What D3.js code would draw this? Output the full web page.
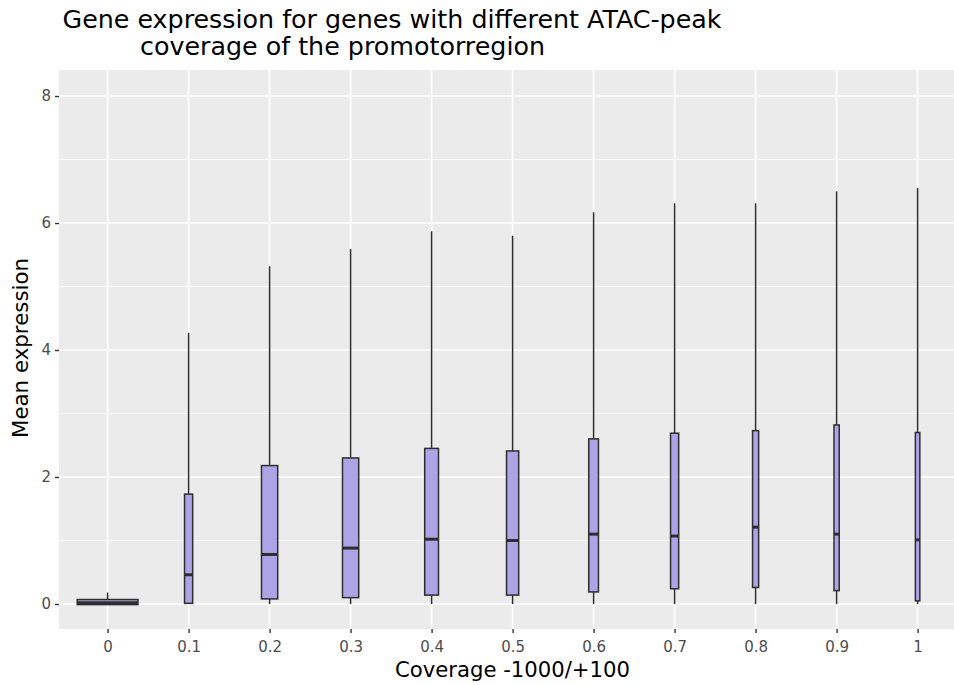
<!DOCTYPE html>
<html><head><meta charset="utf-8">
<script src="https://cdn.jsdelivr.net/npm/d3@7"></script>
<style>body{margin:0;background:#fff}svg{display:block;font-family:"DejaVu Sans",sans-serif}</style>
</head><body><svg id="c" width="954" height="685"></svg>
<script>
const categories = ["0","0.1","0.2","0.3","0.4","0.5","0.6","0.7","0.8","0.9","1"];
const whiskerLow  = [0,0,0,0,0,0,0,0,0,0,0];
const q1          = [-0.01,0.01,0.08,0.10,0.14,0.14,0.19,0.24,0.26,0.21,0.05];
const median      = [0.02,0.46,0.78,0.88,1.02,1.00,1.10,1.07,1.21,1.10,1.01];
const q3          = [0.07,1.73,2.18,2.30,2.45,2.41,2.60,2.69,2.73,2.82,2.70];
const whiskerHigh = [0.18,4.27,5.32,5.59,5.87,5.80,6.17,6.31,6.31,6.50,6.55];
const groupSize   = [10000,178,711,711,514,400,256,178,100,75,54];
const yTicks = [0,2,4,6,8];
const yMinor = [1,3,5,7];

const svg = d3.select("#c");
const L=59, R=966.2, T=70, B=629;
const x = d3.scalePoint().domain(categories).range([L,R]).padding(0.6);
const y = d3.scaleLinear().domain([-0.394,8.41]).range([B,T]);
const step = x.step();
const nMax = d3.max(groupSize);

svg.append("rect").attr("x",L).attr("y",T).attr("width",R-L).attr("height",B-T).attr("fill","#ebebeb");
svg.selectAll(".ymin").data(yMinor).join("line").attr("x1",L).attr("x2",R)
  .attr("y1",d=>y(d)).attr("y2",d=>y(d)).attr("stroke","#fff").attr("stroke-width",0.8);
svg.selectAll(".ymaj").data(yTicks).join("line").attr("x1",L).attr("x2",R)
  .attr("y1",d=>y(d)).attr("y2",d=>y(d)).attr("stroke","#fff").attr("stroke-width",1.6);
svg.selectAll(".xmaj").data(categories).join("line").attr("y1",T).attr("y2",B)
  .attr("x1",d=>x(d)).attr("x2",d=>x(d)).attr("stroke","#fff").attr("stroke-width",1.6);

const data = categories.map((c,i)=>({c,lo:whiskerLow[i],q1:q1[i],med:median[i],q3:q3[i],hi:whiskerHigh[i],w:0.75*step*Math.sqrt(groupSize[i]/nMax)}));
const g = svg.append("g");
const stroke="#2e2e2e";
data.forEach(d=>{
  const cx=x(d.c);
  g.append("line").attr("x1",cx).attr("x2",cx).attr("y1",y(d.q3)).attr("y2",y(d.hi)).attr("stroke",stroke).attr("stroke-width",1.5);
  g.append("line").attr("x1",cx).attr("x2",cx).attr("y1",y(d.q1)).attr("y2",y(d.lo)).attr("stroke",stroke).attr("stroke-width",1.5);
  g.append("rect").attr("x",cx-d.w/2).attr("width",d.w).attr("y",y(d.q3)).attr("height",Math.max(0,y(d.q1)-y(d.q3)))
    .attr("fill","#aca4e6").attr("stroke",stroke).attr("stroke-width",1.5);
  g.append("line").attr("x1",cx-d.w/2).attr("x2",cx+d.w/2).attr("y1",y(d.med)).attr("y2",y(d.med)).attr("stroke",stroke).attr("stroke-width",3);
});

// axes
const ya = svg.append("g").attr("transform",`translate(${L},0)`).call(d3.axisLeft(y).tickValues(yTicks).tickSize(4).tickPadding(4));
const xa = svg.append("g").attr("transform",`translate(0,${B})`).call(d3.axisBottom(x).tickSize(4).tickPadding(8));
[ya,xa].forEach(a=>{a.select(".domain").remove();a.selectAll("line").attr("stroke","#333").attr("stroke-width",1.4);
  a.selectAll("text").attr("fill","#4d4d4d").style("font-size","15px").style("font-family","DejaVu Sans");});

svg.append("text").attr("x",512.5).attr("y",677).attr("text-anchor","middle").style("font-size","21px").attr("fill","#000")
  .attr("textLength",235).attr("lengthAdjust","spacingAndGlyphs").text("Coverage -1000/+100");
svg.append("text").attr("transform","translate(28,348) rotate(-90)").attr("text-anchor","middle").style("font-size","21px").attr("fill","#000")
  .attr("textLength",180).attr("lengthAdjust","spacingAndGlyphs").text("Mean expression");
svg.append("text").attr("x",62.5).attr("y",28).style("font-size","24px").attr("fill","#000")
  .attr("textLength",659).attr("lengthAdjust","spacingAndGlyphs").text("Gene expression for genes with different ATAC-peak");
svg.append("text").attr("x",140).attr("y",55).style("font-size","24px").attr("fill","#000")
  .attr("textLength",405).attr("lengthAdjust","spacingAndGlyphs").text("coverage of the promotorregion");
</script></body></html>
